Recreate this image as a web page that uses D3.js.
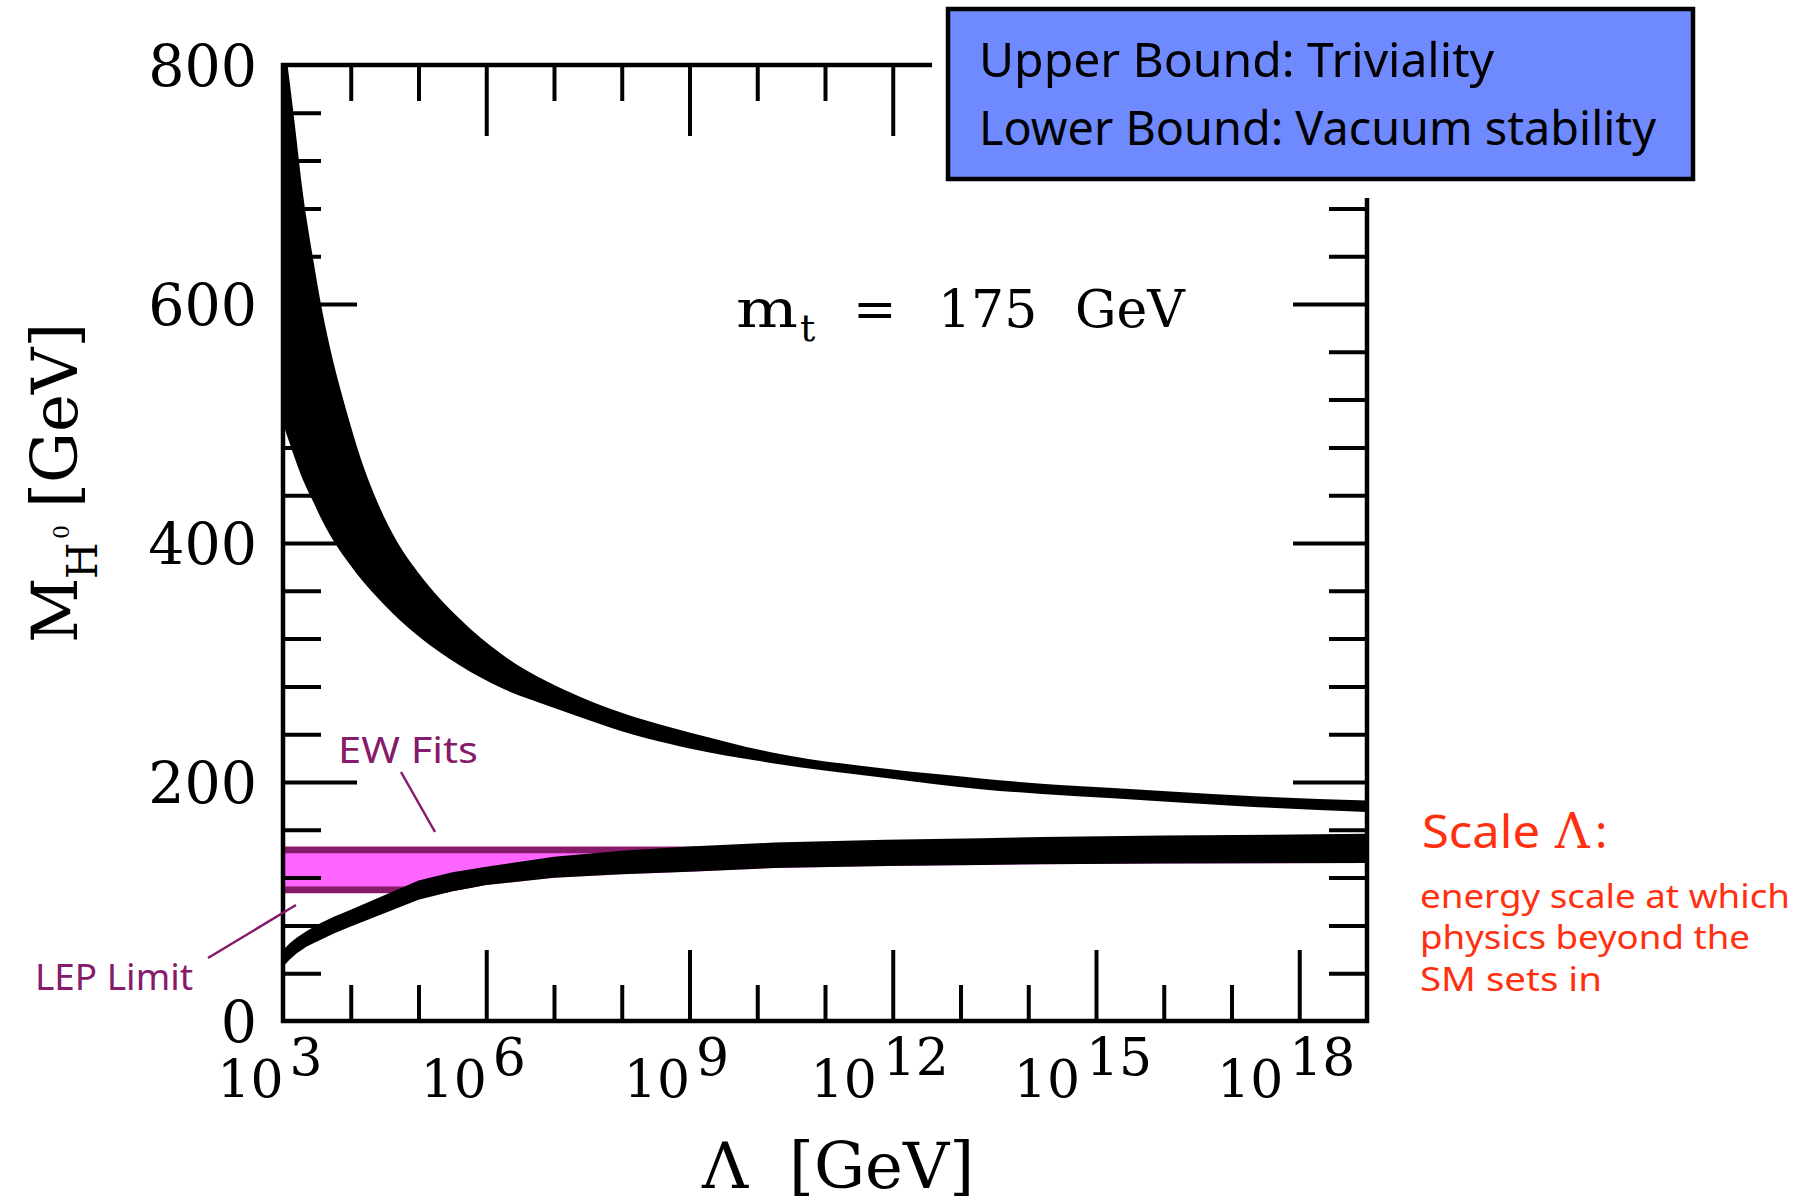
<!DOCTYPE html>
<html>
<head>
<meta charset="utf-8">
<script src="https://cdn.jsdelivr.net/npm/d3@7"></script>
<style>
  body { margin: 0; background: #fff; }
  svg { display: block; }
  .serif { font-family: 'DejaVu Serif', serif; }
  .hand { font-family: 'Noto Sans', sans-serif; }
</style>
</head>
<body>
<div id="wrapper"></div>
<script>
// ---------------------------------------------------
// DATA (x values are log10 of Lambda in GeV)
// ---------------------------------------------------
const trivialityExp = [3.0, 3.15, 3.3, 3.45, 3.55, 3.7, 3.87, 4.0, 4.1, 4.3, 4.5, 4.75, 5.0, 5.6, 6.25, 6.9, 7.4, 8.0, 8.7, 9.0, 10.2, 11.9, 13.3, 14.2, 15.25, 17.2, 19.0]
const trivialityHigh = [830, 762, 690, 636, 603, 562, 524, 498, 479, 447, 421, 395, 375, 337, 306, 284, 271, 258, 246, 241.5, 225, 211, 203, 198.5, 195, 188.5, 184.5]
const trivialityLow = [500, 475, 452, 434, 422, 406, 391, 381, 373.5, 360, 348, 334, 322, 298, 278, 264, 254, 242.5, 232, 228, 216, 203.4, 194, 190, 186.3, 179.6, 174.8]

const stabilityExp = [3.0, 3.1, 3.2, 3.35, 3.55, 3.75, 4.0, 5.0, 5.5, 6.0, 7.0, 8.0, 9.0, 10.25, 11.9, 13.3, 14.2, 16.0, 19.0]
const stabilityHigh = [59.5, 65, 69.6, 75.3, 81.8, 87.3, 93, 117.5, 124.5, 129, 137.5, 142.5, 146, 149.3, 151.6, 153, 153.9, 155.2, 156.6]
const stabilityLow = [45.5, 51.5, 56.5, 62.3, 67.8, 73.3, 79, 101.5, 108.5, 113.9, 119.8, 122.7, 125, 128, 129.8, 130.6, 131.2, 131.8, 132.3]

// electroweak fit band (GeV)
const ewFitRange = [109.7, 143.2]

// tick labels
const yTickLabels = [0, 200, 400, 600, 800]
const xTickExps = [3, 6, 9, 12, 15, 18]

function drawChart() {
  // ---------------------------------------------------
  // 1. DIMENSIONS
  // ---------------------------------------------------
  const dimensions = {
    width: 1813,
    height: 1202,
    left: 283,
    right: 1367,
    top: 65,
    bottom: 1021,
  }

  const trivData = trivialityExp.map((e, i) => ({
    lambda: Math.pow(10, e),
    high: trivialityHigh[i],
    low: trivialityLow[i],
  }))
  const stabData = stabilityExp.map((e, i) => ({
    lambda: Math.pow(10, e),
    high: stabilityHigh[i],
    low: stabilityLow[i],
  }))

  // ---------------------------------------------------
  // 2. CANVAS
  // ---------------------------------------------------
  const svg = d3
    .select('#wrapper')
    .append('svg')
    .attr('width', dimensions.width)
    .attr('height', dimensions.height)
    .style('background', '#fff')

  // ---------------------------------------------------
  // 3. SCALES
  // ---------------------------------------------------
  const xScale = d3
    .scaleLog()
    .domain([1e3, 1e19])
    .range([dimensions.left, dimensions.right])

  const yScale = d3
    .scaleLinear()
    .domain([0, 800])
    .range([dimensions.bottom, dimensions.top])

  const defs = svg.append('defs')
  defs
    .append('clipPath')
    .attr('id', 'plot-clip')
    .append('rect')
    .attr('x', dimensions.left)
    .attr('y', dimensions.top)
    .attr('width', dimensions.right - dimensions.left)
    .attr('height', dimensions.bottom - dimensions.top)

  // ew band only shows above the lower edge of the stability band
  const aboveStability = d3
    .area()
    .x((d) => xScale(d.lambda))
    .y0((d) => yScale(d.low))
    .y1(yScale(800))
  defs
    .append('clipPath')
    .attr('id', 'ew-clip')
    .append('path')
    .attr('d', aboveStability(stabData))

  // ---------------------------------------------------
  // 4. DRAW DATA
  // ---------------------------------------------------
  const plot = svg.append('g').attr('clip-path', 'url(#plot-clip)')

  // EW fits band
  const ew = plot.append('g').attr('clip-path', 'url(#ew-clip)')
  ew.append('rect')
    .attr('x', xScale(1e3))
    .attr('width', xScale(1e19) - xScale(1e3))
    .attr('y', yScale(ewFitRange[1]))
    .attr('height', yScale(ewFitRange[0]) - yScale(ewFitRange[1]))
    .attr('fill', '#ff66ff')
  ew.selectAll('line')
    .data(ewFitRange)
    .join('line')
    .attr('x1', xScale(1e3))
    .attr('x2', xScale(1e19))
    .attr('y1', (d) => yScale(d))
    .attr('y2', (d) => yScale(d))
    .attr('stroke', '#861a6b')
    .attr('stroke-width', 6.6)

  const trivBand = d3
    .area()
    .x((d) => xScale(d.lambda))
    .y0((d) => yScale(d.low))
    .y1((d) => yScale(d.high))
    .curve(d3.curveMonotoneX)

  // vacuum stability band is drawn as straight segments (kink at 10^5)
  const stabBand = d3
    .area()
    .x((d) => xScale(d.lambda))
    .y0((d) => yScale(d.low))
    .y1((d) => yScale(d.high))
    .curve(d3.curveLinear)

  plot.append('path').attr('d', trivBand(trivData)).attr('fill', '#000')
  plot.append('path').attr('d', stabBand(stabData)).attr('fill', '#000')

  // ---------------------------------------------------
  // 5. AXES (ticks point inwards on all four sides)
  // ---------------------------------------------------
  const xMinor = d3.range(4, 19).filter((e) => e % 3 !== 0).map((e) => Math.pow(10, e))
  const xMajor = xTickExps.slice(1).map((e) => Math.pow(10, e))
  const yMinor = d3.range(40, 800, 40).filter((v) => v % 200 !== 0)
  const yMajor = yTickLabels.slice(1, -1)

  const axes = svg.append('g').attr('class', 'axes')
  const addAxis = (gen, transform) => {
    const g = axes.append('g').attr('transform', transform).call(gen)
    g.select('.domain').remove()
    g.selectAll('line').attr('stroke', '#000').attr('stroke-width', 4)
    g.selectAll('text').remove()
  }

  addAxis(d3.axisTop(xScale).tickValues(xMinor).tickSize(36).tickSizeOuter(0), `translate(0,${dimensions.bottom})`)
  addAxis(d3.axisTop(xScale).tickValues(xMajor).tickSize(71).tickSizeOuter(0), `translate(0,${dimensions.bottom})`)
  addAxis(d3.axisBottom(xScale).tickValues(xMinor).tickSize(36).tickSizeOuter(0), `translate(0,${dimensions.top})`)
  addAxis(d3.axisBottom(xScale).tickValues(xMajor).tickSize(71).tickSizeOuter(0), `translate(0,${dimensions.top})`)
  addAxis(d3.axisRight(yScale).tickValues(yMinor).tickSize(38).tickSizeOuter(0), `translate(${dimensions.left},0)`)
  addAxis(d3.axisRight(yScale).tickValues(yMajor).tickSize(74).tickSizeOuter(0), `translate(${dimensions.left},0)`)
  addAxis(d3.axisLeft(yScale).tickValues(yMinor).tickSize(38).tickSizeOuter(0), `translate(${dimensions.right},0)`)
  addAxis(d3.axisLeft(yScale).tickValues(yMajor).tickSize(74).tickSizeOuter(0), `translate(${dimensions.right},0)`)

  axes
    .append('rect')
    .attr('x', dimensions.left)
    .attr('y', dimensions.top)
    .attr('width', dimensions.right - dimensions.left)
    .attr('height', dimensions.bottom - dimensions.top)
    .attr('fill', 'none')
    .attr('stroke', '#000')
    .attr('stroke-width', 4.5)

  // y tick labels
  svg
    .append('g')
    .selectAll('text')
    .data(yTickLabels)
    .join('text')
    .attr('class', 'serif')
    .attr('x', 257)
    .attr('y', (d) => yScale(d) + 21)
    .attr('text-anchor', 'end')
    .attr('font-size', 57)
    .text((d) => d)

  // x tick labels 10^n
  const xLabels = svg
    .append('g')
    .selectAll('text')
    .data(xTickExps)
    .join('text')
    .attr('class', 'serif')
    .attr('x', (d) => xScale(Math.pow(10, d)) - 13)
    .attr('y', 1097)
    .attr('text-anchor', 'middle')
    .attr('font-size', 52)
  xLabels.append('tspan').text('10')
  xLabels
    .append('tspan')
    .attr('dx', 6)
    .attr('dy', -22)
    .text((d) => d)

  // axis titles
  svg
    .append('text')
    .attr('class', 'serif')
    .attr('x', 702)
    .attr('y', 1188)
    .attr('font-size', 64)
    .text('Λ')
  svg
    .append('text')
    .attr('class', 'serif')
    .attr('x', 789)
    .attr('y', 1188)
    .attr('font-size', 64)
    .text('[GeV]')

  const yTitle = svg
    .append('text')
    .attr('class', 'serif')
    .attr('transform', 'translate(77,643) rotate(-90)')
    .attr('font-size', 64)
  yTitle.append('tspan').attr('x', 0).attr('y', 0).text('M')
  yTitle.append('tspan').attr('x', 64).attr('y', 20).attr('font-size', 42).text('H')
  yTitle.append('tspan').attr('x', 104).attr('y', -8).attr('font-size', 22).text('0')
  yTitle.append('tspan').attr('x', 135).attr('y', 0).text('[GeV]')

  // ---------------------------------------------------
  // 6. ANNOTATIONS
  // ---------------------------------------------------
  const mt = svg.append('g').attr('class', 'serif').attr('font-size', 52)
  mt.append('text').attr('x', 736).attr('y', 327).attr('textLength', 62).attr('lengthAdjust', 'spacingAndGlyphs').text('m')
  mt.append('text').attr('x', 800).attr('y', 341).attr('font-size', 38).text('t')
  mt.append('text').attr('x', 853).attr('y', 327).text('=')
  mt.append('text').attr('x', 938).attr('y', 327).text('175')
  mt.append('text').attr('x', 1075).attr('y', 327).text('GeV')

  // white patch behind the legend box hides the frame corner
  svg
    .append('rect')
    .attr('x', 932)
    .attr('y', 0)
    .attr('width', dimensions.width - 932)
    .attr('height', 198)
    .attr('fill', '#fff')

  svg
    .append('rect')
    .attr('x', 948)
    .attr('y', 9)
    .attr('width', 745)
    .attr('height', 170)
    .attr('fill', '#6f89ff')
    .attr('stroke', '#000')
    .attr('stroke-width', 4.5)

  const boxLines = [
    { text: 'Upper Bound: Triviality', y: 77, len: 515 },
    { text: 'Lower Bound: Vacuum stability', y: 145, len: 677 },
  ]
  svg
    .append('g')
    .selectAll('text')
    .data(boxLines)
    .join('text')
    .attr('class', 'hand')
    .attr('x', 979)
    .attr('y', (d) => d.y)
    .attr('font-size', 48)
    .attr('textLength', (d) => d.len)
    .attr('lengthAdjust', 'spacingAndGlyphs')
    .text((d) => d.text)

  // EW fits / LEP limit labels
  const purple = '#861a6b'
  svg
    .append('text')
    .attr('class', 'hand')
    .attr('x', 338)
    .attr('y', 763)
    .attr('font-size', 36)
    .attr('fill', purple)
    .attr('textLength', 140)
    .attr('lengthAdjust', 'spacingAndGlyphs')
    .text('EW Fits')
  svg
    .append('line')
    .attr('x1', 401)
    .attr('y1', 772)
    .attr('x2', 435)
    .attr('y2', 832)
    .attr('stroke', purple)
    .attr('stroke-width', 2.5)

  svg
    .append('text')
    .attr('class', 'hand')
    .attr('x', 35)
    .attr('y', 990)
    .attr('font-size', 36)
    .attr('fill', purple)
    .attr('textLength', 158)
    .attr('lengthAdjust', 'spacingAndGlyphs')
    .text('LEP Limit')
  svg
    .append('line')
    .attr('x1', 208)
    .attr('y1', 958)
    .attr('x2', 296)
    .attr('y2', 905)
    .attr('stroke', purple)
    .attr('stroke-width', 2.5)

  // scale explanation in red
  const red = '#ff3010'
  svg
    .append('text')
    .attr('class', 'hand')
    .attr('x', 1422)
    .attr('y', 848)
    .attr('font-size', 46)
    .attr('fill', red)
    .attr('textLength', 118)
    .attr('lengthAdjust', 'spacingAndGlyphs')
    .text('Scale')
  svg
    .append('text')
    .attr('class', 'serif')
    .attr('x', 1555)
    .attr('y', 848)
    .attr('font-size', 48)
    .attr('fill', red)
    .text('Λ')
  svg
    .append('text')
    .attr('class', 'hand')
    .attr('x', 1595)
    .attr('y', 848)
    .attr('font-size', 46)
    .attr('fill', red)
    .text(':')

  const noteLines = [
    { text: 'energy scale at which', y: 908, len: 370 },
    { text: 'physics beyond the', y: 949, len: 330 },
    { text: 'SM sets in', y: 991, len: 182 },
  ]
  svg
    .append('g')
    .selectAll('text')
    .data(noteLines)
    .join('text')
    .attr('class', 'hand')
    .attr('x', 1420)
    .attr('y', (d) => d.y)
    .attr('font-size', 32)
    .attr('fill', red)
    .attr('textLength', (d) => d.len)
    .attr('lengthAdjust', 'spacingAndGlyphs')
    .text((d) => d.text)
}

drawChart()
</script>
</body>
</html>
